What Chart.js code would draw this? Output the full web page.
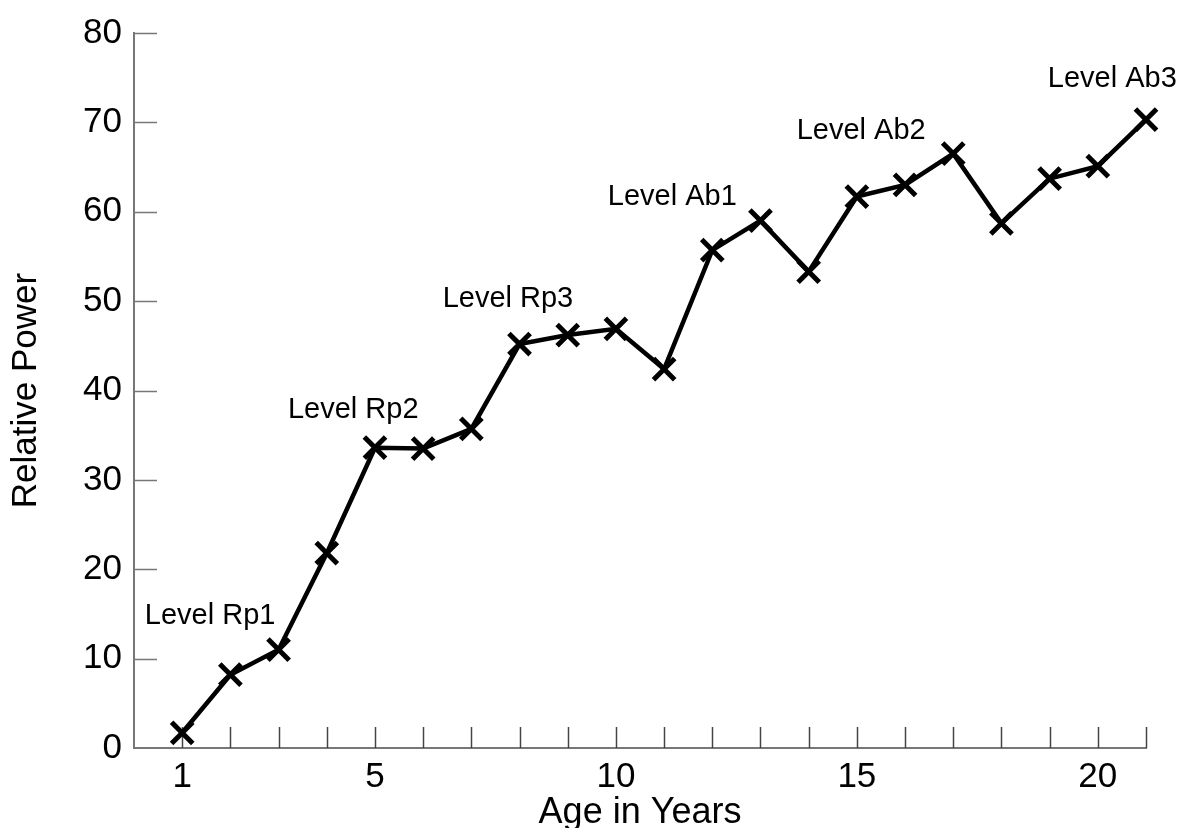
<!DOCTYPE html>
<html>
<head>
<meta charset="utf-8">
<script src="https://cdn.jsdelivr.net/npm/chart.js@4/dist/chart.umd.min.js"></script>
<style>
  html, body { margin: 0; padding: 0; background: #fff; }
  #wrap { width: 1189px; height: 828px; }
</style>
</head>
<body>
<div id="wrap"><canvas id="chart" width="1189" height="828"></canvas></div>
<script>
// data
const years = [1, 2, 3, 4, 5, 6, 7, 8, 9, 10, 11, 12, 13, 14, 15, 16, 17, 18, 19, 20, 21]
const relativePower = [1.7, 8.2, 11.0, 21.8, 33.6, 33.5, 35.7, 45.2, 46.2, 46.9, 42.4,
  55.7, 59.0, 53.3, 61.7, 63.0, 66.5, 58.7, 63.7, 65.1, 70.3]
const labeledYears = [1, 5, 10, 15, 20]

// level annotations, in data units
const levelNames = ['Level Rp1', 'Level Rp2', 'Level Rp3', 'Level Ab1', 'Level Ab2', 'Level Ab3']
const levelX = [1.58, 4.55, 7.76, 11.17, 15.09, 20.3]
const levelY = [14.8, 37.8, 50.2, 61.7, 69.0, 74.9]

const FONT = 'Liberation Sans, Arial, sans-serif'
const AXIS_GREY = '#777'

// inward tick marks, drawn from the scales' own ticks
const innerTicks = {
  id: 'innerTicks',
  beforeDatasetsDraw(chart) {
    const { ctx, chartArea, scales } = chart
    ctx.save()
    ctx.lineWidth = 1.5
    ctx.strokeStyle = '#444'
    scales.x.ticks.forEach(t => {
      const px = Math.round(scales.x.getPixelForValue(t.value)) + 0.5
      ctx.beginPath()
      ctx.moveTo(px, chartArea.bottom)
      ctx.lineTo(px, chartArea.bottom - 21)
      ctx.stroke()
    })
    ctx.strokeStyle = AXIS_GREY
    scales.y.ticks.forEach(t => {
      if (t.value === 0) return
      const py = Math.round(scales.y.getPixelForValue(t.value)) + 0.5
      ctx.beginPath()
      ctx.moveTo(chartArea.left, py)
      ctx.lineTo(chartArea.left + 23, py)
      ctx.stroke()
    })
    ctx.restore()
  }
}

const levelLabels = {
  id: 'levelLabels',
  afterDatasetsDraw(chart) {
    const { ctx, scales } = chart
    ctx.save()
    ctx.font = '29px ' + FONT
    ctx.fillStyle = '#000'
    ctx.textAlign = 'center'
    ctx.textBaseline = 'middle'
    levelNames.forEach((name, i) => {
      ctx.fillText(name, scales.x.getPixelForValue(levelX[i]), scales.y.getPixelForValue(levelY[i]))
    })
    ctx.restore()
  }
}

new Chart(document.getElementById('chart'), {
  type: 'line',
  data: {
    datasets: [{
      data: years.map((yr, i) => ({ x: yr, y: relativePower[i] })),
      borderColor: '#000',
      borderWidth: 4.5,
      pointStyle: 'crossRot',
      pointRadius: 15,
      pointBorderWidth: 5,
      pointBorderColor: '#000',
      tension: 0,
      clip: false
    }]
  },
  options: {
    responsive: false,
    animation: false,
    events: [],
    layout: { padding: { top: 29, right: 43, left: 0, bottom: 0 } },
    plugins: { legend: { display: false }, tooltip: { enabled: false } },
    scales: {
      x: {
        type: 'linear',
        min: 0,
        max: 21,
        afterBuildTicks: s => { s.ticks = years.map(v => ({ value: v })) },
        afterFit: s => { s.height = 80 },
        grid: { display: false, drawTicks: false },
        border: { display: true, color: AXIS_GREY, width: 2 },
        ticks: {
          autoSkip: false,
          maxRotation: 0,
          padding: 8,
          color: '#000',
          font: { family: FONT, size: 35 },
          callback: v => labeledYears.includes(v) ? String(v) : ''
        },
        title: {
          display: true,
          text: 'Age in Years',
          color: '#000',
          font: { family: FONT, size: 36, lineHeight: 1 },
          padding: { top: 0, bottom: -3 }
        }
      },
      y: {
        min: 0,
        max: 80,
        afterFit: s => { s.width = 134 },
        grid: { display: false, drawTicks: false },
        border: { display: true, color: AXIS_GREY, width: 2 },
        ticks: {
          stepSize: 10,
          padding: 12,
          color: '#000',
          font: { family: FONT, size: 35 }
        },
        title: {
          display: true,
          text: 'Relative Power',
          color: '#000',
          font: { family: FONT, size: 35, lineHeight: 1 },
          padding: { top: 9, bottom: 0 }
        }
      }
    }
  },
  plugins: [innerTicks, levelLabels]
})
</script>
</body>
</html>
